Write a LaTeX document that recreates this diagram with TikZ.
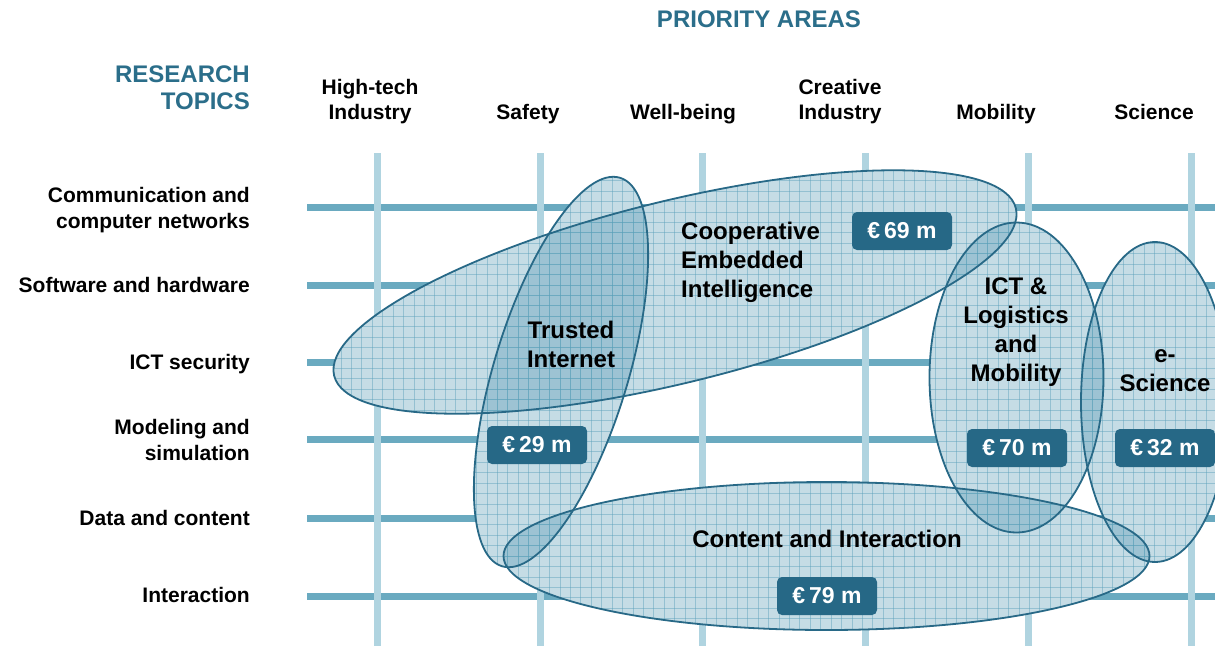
\documentclass[tikz,border=0pt]{standalone}
\usepackage{fontspec}
\setmainfont{Liberation Sans}
\definecolor{headcol}{RGB}{43,110,138}
\definecolor{hcol}{RGB}{106,170,192}
\definecolor{vcol}{RGB}{176,212,224}
\definecolor{badgecol}{RGB}{38,104,134}
\definecolor{edgecol}{RGB}{40,105,135}
\definecolor{fillcol}{RGB}{66,140,170}
\definecolor{gridcol}{RGB}{90,160,185}
\begin{document}
\begin{tikzpicture}[x=1pt,y=-1pt,
  topic/.style={anchor=east, align=right, font=\fontsize{21}{26}\selectfont\bfseries, inner sep=0pt},
  area/.style={align=center, font=\fontsize{21}{25}\selectfont\bfseries, inner sep=0pt},
  head/.style={text=headcol, font=\fontsize{24}{27}\selectfont\bfseries, inner sep=0pt},
  elab/.style={font=\fontsize{24}{29}\selectfont\bfseries, inner sep=0pt, align=center},
  badge/.style={fill=badgecol, text=white, rounded corners=5pt, minimum width=100pt, minimum height=38pt, inner sep=0pt, font=\fontsize{23}{27}\selectfont\bfseries},
  hline/.style={line width=7pt, color=hcol},
  vline/.style={line width=7pt, color=vcol},
  ellfill/.style={fill=fillcol, fill opacity=0.3},
  gridl/.style={draw=gridcol, line width=0.8pt, draw opacity=0.45},
  elledge/.style={draw=edgecol, line width=1.8pt}
]
\useasboundingbox (0,0) rectangle (1215,646);
\fill[white] (0,0) rectangle (1215,646);

% background grid
\foreach \yy in {207,285,362,439,518,596} \draw[hline] (307,\yy) -- (1215,\yy);
\foreach \xx in {377,540,702,865,1028,1191} \draw[vline] (\xx,153) -- (\xx,646);

% ellipses: white base
\foreach \cx/\cy/\a/\b/\r in {675/292/351/91/13.8, 561/372/203/67/73.1, 1016.5/377.5/87/155/0, 1155/402/74/160/0, 826.5/556/323/74/0}
  \fill[white, rotate around={\r:(\cx,\cy)}] (\cx,\cy) ellipse [x radius=\a, y radius=\b];
% translucent tint
\foreach \cx/\cy/\a/\b/\r in {675/292/351/91/13.8, 561/372/203/67/73.1, 1016.5/377.5/87/155/0, 1155/402/74/160/0, 826.5/556/323/74/0}
  \fill[ellfill, rotate around={\r:(\cx,\cy)}] (\cx,\cy) ellipse [x radius=\a, y radius=\b];
% fine grid texture
\foreach \cx/\cy/\a/\b/\r in {675/292/351/91/13.8, 561/372/203/67/73.1, 1016.5/377.5/87/155/0, 1155/402/74/160/0, 826.5/556/323/74/0}{
  \begin{scope}
    \clip[rotate around={\r:(\cx,\cy)}] (\cx,\cy) ellipse [x radius=\a, y radius=\b];
    \draw[gridl] \foreach \i in {0,...,90} {(288.8+\i*10.43,130) -- ++(0,530)};
    \draw[gridl] \foreach \i in {0,...,50} {(280,138.95+\i*10.43) -- ++(950,0)};
  \end{scope}
}
% outlines
\foreach \cx/\cy/\a/\b/\r in {675/292/351/91/13.8, 561/372/203/67/73.1, 1016.5/377.5/87/155/0, 1155/402/74/160/0, 826.5/556/323/74/0}
  \draw[elledge, rotate around={\r:(\cx,\cy)}] (\cx,\cy) ellipse [x radius=\a, y radius=\b];

% headings
\node[head] (prio) at (759,19) {PRIORITY AREAS};
\node[head, anchor=east, align=right] (rtopics) at (250,87.5) {RESEARCH\\TOPICS};

% priority areas
\node[area] (hightech) at (370,102) {High-tech\\Industry};
\node[area] (safety) at (528,114) {Safety};
\node[area] (wellbeing) at (683,114) {Well-being};
\node[area] (creative) at (840,102) {Creative\\Industry};
\node[area] (mobility) at (996,114) {Mobility};
\node[area] (science) at (1154,112) {Science};

% research topics
\node[topic] (comm) at (250,210.5) {Communication and\\computer networks};
\node[topic] (soft) at (250,285) {Software and hardware};
\node[topic] (sec) at (250,364) {ICT security};
\node[topic] (model) at (250,439.5) {Modeling and\\simulation};
\node[topic] (data) at (250,518) {Data and content};
\node[topic] (inter) at (250,595) {Interaction};

% ellipse labels
\node[elab, anchor=west, align=left] (coop) at (681,262) {Cooperative\\Embedded\\Intelligence};
\node[elab] (trusted) at (571,344) {Trusted\\Internet};
\node[elab] (ict) at (1016,332.5) {ICT \&\\Logistics\\and\\Mobility};
\node[elab] (escience) at (1165,371) {e-\\Science};
\node[elab] (content) at (827,539) {Content and Interaction};

% budgets
\node[badge] (b69) at (902,231) {€\,69 m};
\node[badge] (b29) at (537,445) {€\,29 m};
\node[badge] (b70) at (1017,448) {€\,70 m};
\node[badge] (b32) at (1165,448) {€\,32 m};
\node[badge] (b79) at (827,596) {€\,79 m};
\end{tikzpicture}
\end{document}
